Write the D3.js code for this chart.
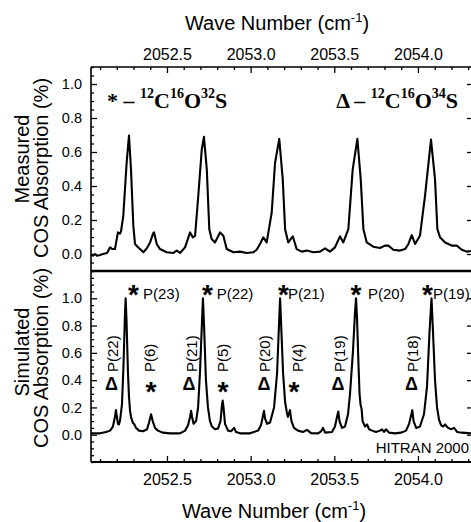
<!DOCTYPE html>
<html><head><meta charset="utf-8">
<script src="https://cdn.jsdelivr.net/npm/d3@7"></script>
<style>body{margin:0;background:#fff;} svg{display:block;}</style>
</head><body>
<svg id="c" width="471" height="522"></svg>
<script>
// ---------- data (wave number cm^-1, absorption %) ----------
const measuredSpectrum = [
[2052.046,0.0],[2052.058,-0.01],[2052.070,0.0],[2052.082,-0.01],[2052.100,-0.006],[2052.118,0.0],
[2052.142,0.006],[2052.160,0.039],[2052.172,0.03],[2052.189,0.029],[2052.207,0.127],[2052.219,0.12],
[2052.225,0.131],[2052.239,0.224],[2052.259,0.537],[2052.273,0.697],[2052.285,0.498],[2052.299,0.166],
[2052.309,0.059],[2052.327,0.04],[2052.339,0.029],[2052.359,0.01],[2052.379,0.033],[2052.399,0.068],
[2052.418,0.123],[2052.423,0.127],[2052.439,0.059],[2052.458,0.029],[2052.498,0.01],[2052.538,0.006],
[2052.558,0.02],[2052.578,0.006],[2052.608,0.039],[2052.638,0.127],[2052.654,0.098],[2052.668,0.107],
[2052.687,0.341],[2052.708,0.615],[2052.721,0.689],[2052.738,0.498],[2052.753,0.146],[2052.767,0.088],
[2052.787,0.068],[2052.817,0.127],[2052.837,0.107],[2052.857,0.029],[2052.897,0.01],[2052.937,0.014],
[2052.977,0.006],[2053.016,0.01],[2053.036,0.025],[2053.056,0.059],[2053.076,0.098],[2053.096,0.068],
[2053.126,0.244],[2053.146,0.537],[2053.171,0.677],[2053.192,0.439],[2053.206,0.146],[2053.225,0.068],
[2053.252,0.104],[2053.275,0.029],[2053.305,0.014],[2053.335,0.02],[2053.375,0.01],[2053.415,0.014],
[2053.445,0.033],[2053.474,0.014],[2053.504,0.039],[2053.534,0.104],[2053.554,0.068],[2053.584,0.146],
[2053.610,0.498],[2053.638,0.677],[2053.658,0.439],[2053.674,0.146],[2053.694,0.068],[2053.733,0.043],
[2053.773,0.035],[2053.803,0.049],[2053.823,0.049],[2053.853,0.025],[2053.893,0.02],[2053.923,0.029],
[2053.943,0.059],[2053.963,0.111],[2053.983,0.059],[2054.012,0.107],[2054.042,0.341],[2054.078,0.673],
[2054.102,0.439],[2054.116,0.146],[2054.132,0.098],[2054.162,0.068],[2054.182,0.059],[2054.202,0.049],
[2054.232,0.049],[2054.262,0.025],[2054.292,0.014],[2054.317,0.018]
];
const simulatedSpectrum = [
[2052.046,0.01],[2052.100,0.01],[2052.136,0.02],[2052.160,0.03],[2052.177,0.06],[2052.189,0.13],
[2052.195,0.18],[2052.201,0.13],[2052.207,0.08],[2052.213,0.075],[2052.219,0.1],[2052.231,0.22],
[2052.240,0.5],[2052.249,0.88],[2052.253,1.0],[2052.258,0.85],[2052.267,0.45],[2052.273,0.28],
[2052.279,0.18],[2052.285,0.13],[2052.297,0.085],[2052.303,0.08],[2052.315,0.05],[2052.333,0.03],
[2052.357,0.025],[2052.381,0.04],[2052.393,0.09],[2052.405,0.15],[2052.417,0.09],[2052.429,0.05],
[2052.446,0.03],[2052.476,0.015],[2052.518,0.01],[2052.578,0.01],[2052.608,0.03],[2052.626,0.07],
[2052.638,0.13],[2052.644,0.175],[2052.650,0.13],[2052.659,0.08],[2052.674,0.1],[2052.686,0.2],
[2052.697,0.45],[2052.709,0.82],[2052.715,1.0],[2052.721,0.82],[2052.733,0.4],[2052.745,0.2],
[2052.757,0.1],[2052.769,0.06],[2052.787,0.04],[2052.805,0.045],[2052.820,0.1],[2052.829,0.22],
[2052.833,0.25],[2052.838,0.2],[2052.847,0.08],[2052.865,0.03],[2052.883,0.025],[2052.901,0.05],
[2052.913,0.02],[2052.937,0.01],[2052.996,0.01],[2053.044,0.03],[2053.062,0.07],[2053.074,0.14],
[2053.080,0.175],[2053.086,0.12],[2053.098,0.08],[2053.116,0.09],[2053.140,0.2],[2053.158,0.45],
[2053.170,0.82],[2053.176,1.0],[2053.182,0.82],[2053.194,0.45],[2053.206,0.24],[2053.217,0.16],
[2053.223,0.13],[2053.235,0.18],[2053.244,0.1],[2053.259,0.05],[2053.283,0.03],[2053.313,0.02],
[2053.337,0.035],[2053.361,0.012],[2053.403,0.01],[2053.421,0.025],[2053.433,0.05],[2053.445,0.015],
[2053.486,0.02],[2053.504,0.06],[2053.516,0.13],[2053.524,0.17],[2053.531,0.1],[2053.546,0.05],
[2053.564,0.06],[2053.582,0.15],[2053.594,0.3],[2053.612,0.62],[2053.624,0.9],[2053.630,1.0],
[2053.636,0.85],[2053.645,0.5],[2053.651,0.3],[2053.657,0.22],[2053.663,0.19],[2053.669,0.1],
[2053.684,0.06],[2053.696,0.075],[2053.708,0.04],[2053.726,0.03],[2053.749,0.02],[2053.773,0.03],
[2053.785,0.04],[2053.797,0.02],[2053.809,0.04],[2053.827,0.015],[2053.863,0.01],[2053.899,0.015],
[2053.929,0.03],[2053.947,0.08],[2053.959,0.14],[2053.966,0.18],[2053.974,0.1],[2053.989,0.05],
[2054.012,0.06],[2054.036,0.15],[2054.054,0.35],[2054.069,0.75],[2054.081,1.0],[2054.090,0.75],
[2054.102,0.4],[2054.114,0.2],[2054.126,0.11],[2054.138,0.07],[2054.150,0.06],[2054.162,0.075],
[2054.180,0.05],[2054.198,0.04],[2054.216,0.05],[2054.234,0.02],[2054.263,0.015],[2054.317,0.01]
];
const xMajorTicks = [2052.5, 2053.0, 2053.5, 2054.0];
const yMajorTicks = [0.0, 0.2, 0.4, 0.6, 0.8, 1.0];
const upperLineNames = ["P(23)", "P(22)", "P(21)", "P(20)", "P(19)"];
const lowerLineNames = ["P(22)", "P(6)", "P(21)", "P(5)", "P(20)", "P(4)", "P(19)", "P(18)"];
const lowerLineIsotope = ["Δ", "*", "Δ", "*", "Δ", "*", "Δ", "Δ"];

// ---------- layout ----------
const L = 91, R = 472, T1 = 67, B1 = 271, T2 = 271, B2 = 462;
const SANS = "'Liberation Sans', Arial, Helvetica, sans-serif";
const SERIF = "'Liberation Serif', 'Times New Roman', serif";
const svg = d3.select("#c");

const x = d3.scaleLinear().domain([2052.046, 2054.323]).range([L, R]);
const yTop = d3.scaleLinear().domain([-0.1, 1.1]).range([B1, T1]);
const yBot = d3.scaleLinear().domain([-0.2, 1.2]).range([B2, T2]);

svg.append("clipPath").attr("id", "clipTop").append("rect")
  .attr("x", L).attr("y", T1).attr("width", R - L).attr("height", B1 - T1);
svg.append("clipPath").attr("id", "clipBot").append("rect")
  .attr("x", L).attr("y", T2).attr("width", R - L).attr("height", B2 - T2);

function styleAxis(g, size) {
  g.select(".domain").remove();
  g.selectAll("line").attr("stroke", "#000").attr("stroke-width", 1.3);
  g.selectAll("text").attr("font-family", SANS).attr("font-size", size).attr("fill", "#000");
}
const fmt = d3.format(".1f");
const xMinor = d3.range(2052.1, 2054.35, 0.1).filter(v => !xMajorTicks.some(m => Math.abs(m - v) < 1e-6));

// top x axis
svg.append("g").attr("transform", `translate(0,${T1})`)
  .call(d3.axisTop(x).tickValues(xMajorTicks).tickSize(-6).tickPadding(7).tickFormat(fmt))
  .call(g => styleAxis(g, 16));
svg.append("g").attr("transform", `translate(0,${T1})`)
  .call(d3.axisTop(x).tickValues(xMinor).tickSize(-3).tickFormat(""))
  .call(g => styleAxis(g, 16));
// bottom x axis
svg.append("g").attr("transform", `translate(0,${B2})`)
  .call(d3.axisBottom(x).tickValues(xMajorTicks).tickSize(-6).tickPadding(12).tickFormat(fmt))
  .call(g => styleAxis(g, 16));
svg.append("g").attr("transform", `translate(0,${B2})`)
  .call(d3.axisBottom(x).tickValues(xMinor).tickSize(-3).tickFormat(""))
  .call(g => styleAxis(g, 16));

// y axes
function yAxes(scale, lo, hi) {
  const minor = d3.range(lo, hi + 0.001, 0.05).filter(v => !yMajorTicks.some(m => Math.abs(m - v) < 1e-6));
  svg.append("g").attr("transform", `translate(${L},0)`)
    .call(d3.axisLeft(scale).tickValues(yMajorTicks).tickSize(-6).tickPadding(9).tickFormat(fmt))
    .call(g => styleAxis(g, 14.5));
  svg.append("g").attr("transform", `translate(${L},0)`)
    .call(d3.axisLeft(scale).tickValues(minor).tickSize(-3).tickFormat(""))
    .call(g => styleAxis(g, 14.5));
  svg.append("g").attr("transform", `translate(${R},0)`)
    .call(d3.axisRight(scale).tickValues(yMajorTicks).tickSize(-5).tickFormat(""))
    .call(g => styleAxis(g, 14.5));
}
yAxes(yTop, -0.1, 1.1);
yAxes(yBot, -0.2, 1.2);

// frame lines
svg.append("line").attr("x1", L).attr("x2", R).attr("y1", T1).attr("y2", T1).attr("stroke", "#000").attr("stroke-width", 1.5);
svg.append("line").attr("x1", L).attr("x2", R).attr("y1", B1).attr("y2", B1).attr("stroke", "#000").attr("stroke-width", 2.6);
svg.append("line").attr("x1", L).attr("x2", R).attr("y1", B2).attr("y2", B2).attr("stroke", "#000").attr("stroke-width", 2);
svg.append("line").attr("x1", L).attr("x2", L).attr("y1", T1).attr("y2", B2).attr("stroke", "#000").attr("stroke-width", 1.6);
svg.append("line").attr("x1", R).attr("x2", R).attr("y1", T1).attr("y2", B2).attr("stroke", "#000").attr("stroke-width", 1.6);

// spectra
const lineTop = d3.line().x(d => x(d[0])).y(d => yTop(d[1]));
const lineBot = d3.line().x(d => x(d[0])).y(d => yBot(d[1]));
svg.append("path").attr("d", lineTop(measuredSpectrum)).attr("clip-path", "url(#clipTop)")
  .attr("fill", "none").attr("stroke", "#000").attr("stroke-width", 2.1).attr("stroke-linejoin", "round");
svg.append("path").attr("d", lineBot(simulatedSpectrum)).attr("clip-path", "url(#clipBot)")
  .attr("fill", "none").attr("stroke", "#000").attr("stroke-width", 2.1).attr("stroke-linejoin", "round");

// axis titles
function waveTitle(cx, baseline) {
  const t = svg.append("text").attr("x", cx).attr("y", baseline).attr("text-anchor", "middle")
    .attr("font-family", SANS).attr("font-size", 20).attr("fill", "#000");
  t.append("tspan").text("Wave Number (cm");
  t.append("tspan").attr("font-size", 13).attr("dy", -8).text("-1");
  t.append("tspan").attr("dy", 8).text(")");
}
waveTitle(277, 30);
waveTitle(274, 518);

function yTitle(lines, centers) {
  lines.forEach((s, i) => {
    svg.append("text").attr("transform", `translate(${centers[i][0]},${centers[i][1]}) rotate(-90)`)
      .attr("text-anchor", "middle").attr("font-family", SANS).attr("font-size", 20).attr("fill", "#000").text(s);
  });
}
yTitle(["Measured", "COS Absorption (%)"], [[29, 159], [47.5, 168]]);
yTitle(["Simulated", "COS Absorption (%)"], [[29, 352], [47.5, 358]]);

// legend texts
function legend(x0, anchor, sym, iso) {
  const t = svg.append("text").attr("x", x0).attr("y", 108).attr("text-anchor", anchor)
    .attr("font-family", SERIF).attr("font-weight", "bold").attr("font-size", 22).attr("fill", "#000");
  t.append("tspan").text(sym + " \u2013 ");
  const parts = [["12", "C"], ["16", "O"], [iso, "S"]];
  parts.forEach(p => {
    t.append("tspan").attr("font-size", 14).attr("dy", -10).text(p[0]);
    t.append("tspan").attr("dy", 10).text(p[1]);
  });
}
legend(107, "start", "*", "32");
legend(458, "end", "\u0394", "34");

// upper peak labels (stars + names)
const upperStarX = [133.5, 207.5, 283.5, 356, 427.5];
const upperTextX = [143, 216.7, 288, 368, 433];
upperLineNames.forEach((s, i) => {
  svg.append("text").attr("x", upperStarX[i]).attr("y", 304).attr("text-anchor", "middle")
    .attr("font-family", SANS).attr("font-weight", "bold").attr("font-size", 28).text("*");
  svg.append("text").attr("x", upperTextX[i]).attr("y", 298.5)
    .attr("font-family", SANS).attr("font-size", 15).text(s);
});

// lower rotated labels
const lowerTextX = [118, 155, 197, 228, 270, 303, 345, 418];
const lowerMarkX = [111.5, 151, 189, 223, 264, 294, 338, 411.5];
lowerLineNames.forEach((s, i) => {
  svg.append("text").attr("transform", `translate(${lowerTextX[i]},372) rotate(-90)`)
    .attr("font-family", SANS).attr("font-size", 15).text(s);
  const iso = lowerLineIsotope[i];
  if (iso === "Δ") {
    svg.append("text").attr("x", lowerMarkX[i]).attr("y", 390).attr("text-anchor", "middle")
      .attr("font-family", SANS).attr("font-weight", "bold").attr("font-size", 18).text(iso);
  } else {
    svg.append("text").attr("x", lowerMarkX[i]).attr("y", 401).attr("text-anchor", "middle")
      .attr("font-family", SANS).attr("font-weight", "bold").attr("font-size", 28).text(iso);
  }
});

svg.append("text").attr("x", 469).attr("y", 453).attr("text-anchor", "end")
  .attr("font-family", SANS).attr("font-size", 15).text("HITRAN 2000");
</script>
</body></html>
